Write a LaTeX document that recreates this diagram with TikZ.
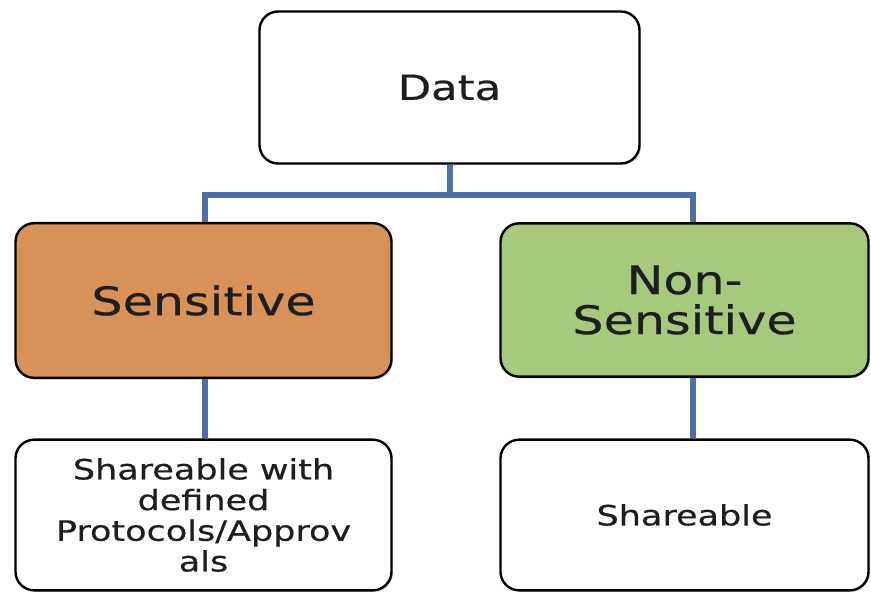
\documentclass[tikz,border=0pt]{standalone}
\usepackage{fontspec}
\setmainfont[FakeStretch=1.25,FakeBold=0.5]{DejaVu Sans}
\usetikzlibrary{shadows}
\definecolor{conn}{HTML}{4A72A8}
\definecolor{orangefill}{HTML}{D89157}
\definecolor{greenfill}{HTML}{A7C97E}
\definecolor{txt}{HTML}{1E1E1E}
\begin{document}
\begin{tikzpicture}[x=0.75pt,y=-0.75pt,
  box/.style={draw=black,line width=1.8pt,rounded corners=14pt,fill=white,align=center,inner sep=0pt,text=txt,
    drop shadow={opacity=0.25,shadow xshift=1.2pt,shadow yshift=-1.2pt}},
  link/.style={draw=conn,line width=4.5pt}]
\useasboundingbox (0,0) rectangle (871,592);
\node[box,minimum width=285pt,minimum height=114pt,font=\fontsize{26}{30}\selectfont] (data) at (449.5,87.5) {Data};
\node[box,fill=orangefill,minimum width=282pt,minimum height=116pt,font=\fontsize{29.5}{30}\selectfont] (sens) at (203.5,300.5) {Sensitive};
\node[box,fill=greenfill,minimum width=276pt,minimum height=115pt,font=\fontsize{29.5}{30}\selectfont] (nons) at (684.5,300) {Non-\\Sensitive};
\node[box,minimum width=282pt,minimum height=113pt,font=\fontsize{21}{23}\selectfont] (shw) at (203.5,515) {Shareable with\\defined\\Protocols/Approv\\als};
\node[box,minimum width=276pt,minimum height=113pt,font=\fontsize{21}{23}\selectfont] (sh) at (684.5,515) {Shareable};
\coordinate (mid) at (449.5,195);
\draw[link] (data.south) -- (mid);
\draw[link] (sens.north -| 205,0) -- (205,195) -- (693,195) -- (nons.north -| 693,0);
\draw[link] (sens.south -| 205,0) -- (shw.north -| 205,0);
\draw[link] (nons.south -| 693,0) -- (sh.north -| 693,0);
\end{tikzpicture}
\end{document}
